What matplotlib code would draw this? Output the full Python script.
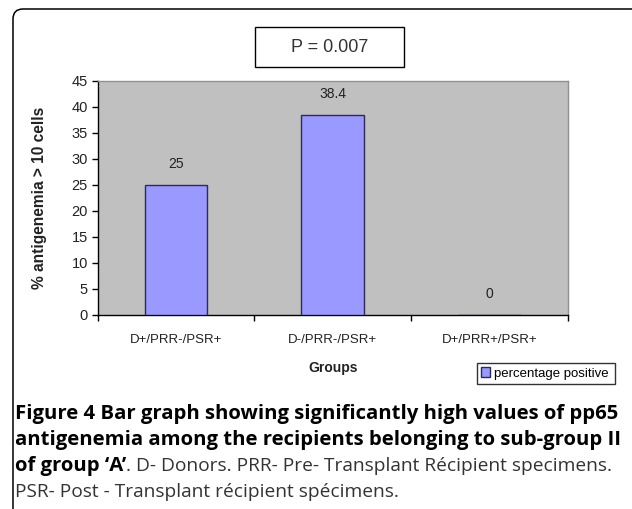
import matplotlib
matplotlib.use("Agg")
import matplotlib.pyplot as plt
from matplotlib.patches import Rectangle, FancyBboxPatch
from matplotlib.transforms import IdentityTransform

W, H = 632, 509
DPI = 100

groups = ["D+/PRR-/PSR+", "D-/PRR-/PSR+", "D+/PRR+/PSR+"]
values = [25, 38.4, 0]
value_labels = ["25", "38.4", "0"]
y_ticks = [0, 5, 10, 15, 20, 25, 30, 35, 40, 45]
series_name = "percentage positive"
p_text = "P = 0.007"

CHART_FONT = ["Liberation Sans", "DejaVu Sans"]
CAPTION_FONT = ["Open Sans", "DejaVu Sans"]
BAR_COLOR = "#9999FF"
BAR_EDGE = "#2b2b55"
PLOT_BG = "#C0C0C0"
CAP_BOLD = 14.6
CAP_REG = 13.8


def fx(px):
    return px / W


def fy(py):
    return 1 - py / H


def main():
    fig = plt.figure(figsize=(W / DPI, H / DPI), dpi=DPI)
    fig.patch.set_facecolor("white")

    # outer rounded frame (only top-left corner visible)
    frame = FancyBboxPatch((13, -20), 634, H - 9 + 20,
                           boxstyle="round,pad=0,rounding_size=10",
                           transform=IdentityTransform(), fill=False,
                           edgecolor="black", linewidth=1.1)
    fig.patches.append(frame)

    ax = fig.add_axes([fx(97.7), fy(315), fx(568) - fx(97.7), fy(80.5) - fy(315)])
    ax.set_facecolor(PLOT_BG)
    x = list(range(len(groups)))
    ax.bar(x, values, width=0.4, color=BAR_COLOR, edgecolor=BAR_EDGE,
           linewidth=1.0, label=series_name, zorder=3)
    for xi, v, lab in zip(x, values, value_labels):
        ax.annotate(lab, (xi, v), xytext=(0, 15), textcoords="offset points",
                    ha="center", va="center", fontsize=10, family=CHART_FONT,
                    color="#222222")

    ax.set_xlim(-0.5, len(groups) - 0.5)
    ax.set_ylim(0, 45)
    ax.set_yticks(y_ticks)
    ax.set_yticklabels([str(t) for t in y_ticks], family=CHART_FONT, fontsize=10.5,
                       color="#222222")
    ax.set_xticks(x)
    ax.set_xticklabels(groups, family=CHART_FONT, fontsize=9.5, color="#222222")
    ax.tick_params(axis="x", length=0, pad=14)
    ax.set_xticks([-0.5, 0.5, 1.5, 2.5], minor=True)
    ax.tick_params(axis="x", which="minor", length=4, width=1, direction="out")
    ax.tick_params(axis="y", length=4, width=1, direction="out", pad=3)
    for s in ["left", "bottom"]:
        ax.spines[s].set_color("black")
        ax.spines[s].set_linewidth(1.0)
    for s in ["top", "right"]:
        ax.spines[s].set_color("#909090")
        ax.spines[s].set_linewidth(1.0)

    # axis titles
    fig.text(fx(40), fy(198), "% antigenemia > 10 cells", rotation=90,
             ha="center", va="center", fontsize=11.2, fontweight="bold",
             family=CHART_FONT, color="#222222")
    fig.text(fx(333), fy(368), "Groups", ha="center", va="center",
             fontsize=10, fontweight="bold", family=CHART_FONT, color="#222222")

    # P value box
    fig.patches.append(Rectangle((fx(255), fy(67)), fx(404) - fx(255), fy(27) - fy(67),
                                 transform=fig.transFigure, fill=True,
                                 facecolor="white", edgecolor="black", linewidth=1.0))
    fig.text(fx(329.5), fy(47), p_text, ha="center", va="center", fontsize=13,
             family=CHART_FONT, color="#333333")

    # legend
    handles, labels = ax.get_legend_handles_labels()
    leg = fig.legend(handles, labels, loc="center",
                     bbox_to_anchor=(fx(477), fy(388), fx(615) - fx(477), fy(359) - fy(388)),
                     mode="expand", frameon=True, fancybox=False,
                     prop={"family": CHART_FONT, "size": 9.5},
                     handlelength=0.7, handleheight=0.7, handletextpad=0.3,
                     borderpad=0.3, borderaxespad=0)
    leg.get_frame().set_edgecolor("black")
    leg.get_frame().set_linewidth(1.0)

    # caption
    cap_x = fx(15)
    fig.text(cap_x, fy(414), "Figure 4 Bar graph showing significantly high values of pp65",
             ha="left", va="center", fontsize=CAP_BOLD, fontweight="bold", family=CAPTION_FONT)
    fig.text(cap_x, fy(440), "antigenemia among the recipients belonging to sub-group II",
             ha="left", va="center", fontsize=CAP_BOLD, fontweight="bold", family=CAPTION_FONT)
    line3_bold = fig.text(cap_x, fy(466), "of group \u2018A\u2019",
                          ha="left", va="center", fontsize=CAP_BOLD, fontweight="bold",
                          family=CAPTION_FONT)
    fig.canvas.draw()
    bb = line3_bold.get_window_extent()
    fig.text(bb.x1 / W, fy(466), ". D- Donors. PRR- Pre- Transplant R\u00e9cipient specimens.",
             ha="left", va="center", fontsize=CAP_REG, family=CAPTION_FONT, color="#333333")
    fig.text(cap_x, fy(492), "PSR- Post - Transplant r\u00e9cipient sp\u00e9cimens.",
             ha="left", va="center", fontsize=CAP_REG, family=CAPTION_FONT, color="#333333")

    fig.savefig("out.png", dpi=DPI)
    plt.close(fig)


if __name__ == "__main__":
    main()
